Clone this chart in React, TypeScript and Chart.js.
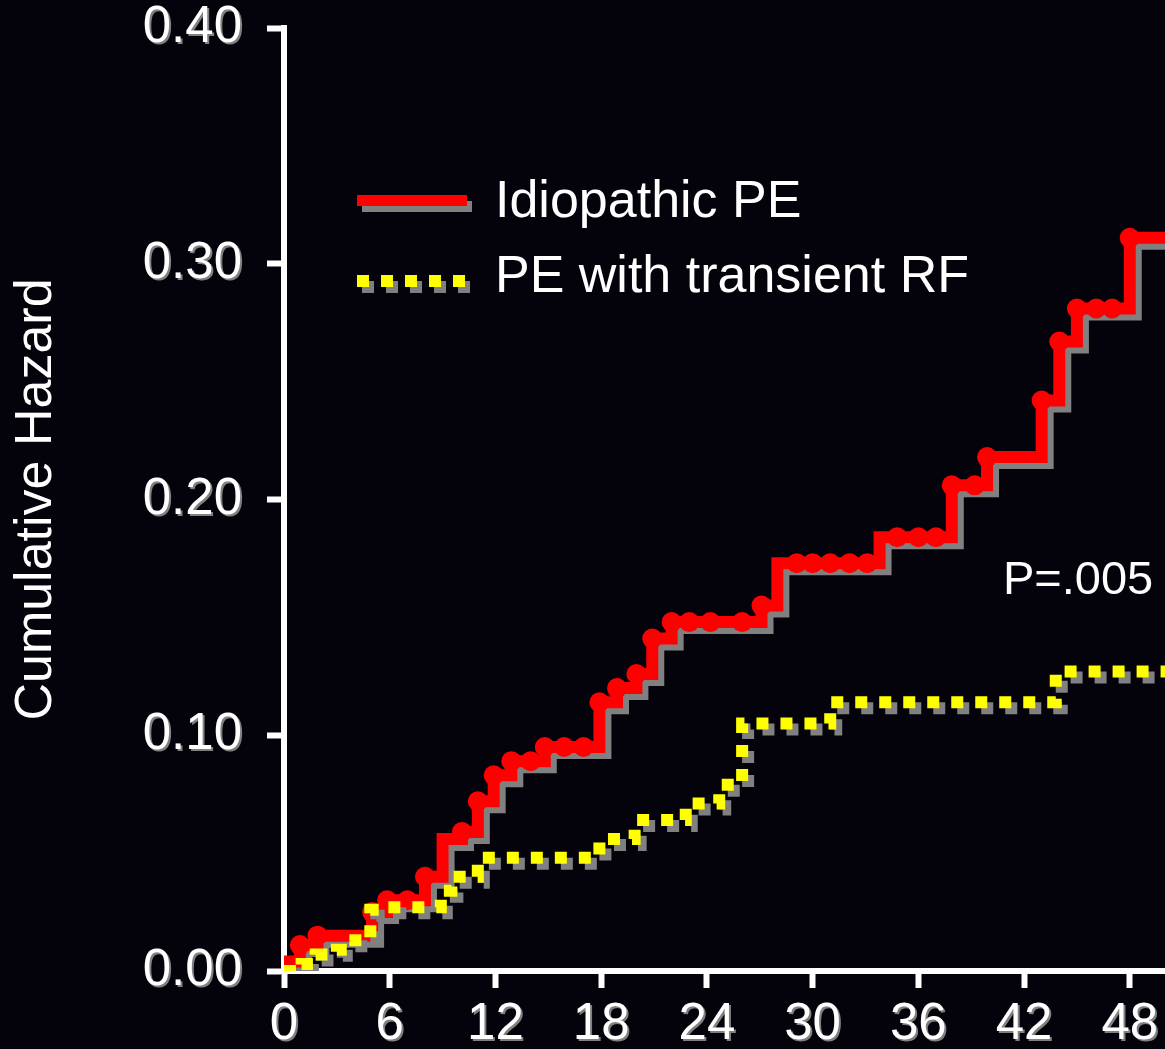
import { useEffect, useRef } from 'react';
import { Chart, registerables } from 'chart.js';

Chart.register(...registerables);

// Idiopathic PE: cumulative hazard after each event (months of follow-up)
const idiopathicMonths = [
  0, 0.9, 1.9, 5.0, 5.85, 7.0, 8.0, 9.0, 10.1, 11.0, 11.9, 12.9, 14.0, 14.8, 15.9, 17.0,
  17.9, 18.9, 20.0, 20.9, 22.0, 23.0, 24.2, 26.0, 27.1, 28.0, 29.1, 30.0, 31.0, 32.1, 33.1,
  33.8, 34.8, 36.0, 37.0, 37.9, 39.2, 39.9, 43.0, 44.0, 45.0, 46.1, 47.0, 48.0, 50.0,
];
const idiopathicHazard = [
  0.004, 0.011, 0.015, 0.025, 0.030, 0.030, 0.040, 0.056, 0.059, 0.072, 0.083, 0.089, 0.089,
  0.095, 0.095, 0.095, 0.114, 0.120, 0.126, 0.141, 0.148, 0.148, 0.148, 0.148, 0.155, 0.173,
  0.173, 0.173, 0.173, 0.173, 0.173, 0.184, 0.184, 0.184, 0.184, 0.206, 0.206, 0.218, 0.242,
  0.267, 0.281, 0.281, 0.281, 0.311, 0.311,
];
// 1 = event drawn with a dot
const idiopathicMarked = [
  0, 1, 1, 1, 1, 1, 1, 0, 1, 1, 1, 1, 1, 1, 1, 1, 1, 1, 1, 1, 1, 1, 1, 1, 1, 0, 1, 1, 1, 1, 1,
  0, 1, 1, 1, 1, 1, 1, 1, 1, 1, 1, 1, 1, 0,
];

// PE with transient risk factor
const transientMonths = [
  0, 1.0, 1.8, 3.0, 3.6, 4.9, 5.9, 8.9, 9.5, 11.0, 17.9, 19.9, 22.8, 24.7, 26.0, 31.0, 43.8, 50.0,
];
const transientHazard = [
  0, 0.003, 0.007, 0.009, 0.013, 0.026, 0.027, 0.034, 0.040, 0.048, 0.056, 0.064, 0.071,
  0.079, 0.105, 0.114, 0.127, 0.127,
];

const monthTicks = [0, 6, 12, 18, 24, 30, 36, 42, 48];
const hazardTicks = [0, 0.1, 0.2, 0.3, 0.4];
const seriesLabels = ['Idiopathic PE', 'PE with transient RF'];
const axisTitle = 'Cumulative Hazard';
const pValueText = 'P=.005';
const pValueAt = { month: 40.8, hazard: 0.16 };

const W = 1165;
const H = 1049;
const FONT = '"Liberation Sans", Arial, Helvetica, sans-serif';
const BG = '#04030b';
const WHITE = '#ffffff';
const RED = '#ff0000';
const YELLOW = '#ffff00';
const SHADE = '#808080';
const TICK_LEN = 17;
const TICK_FONT = 51;

const fmtHazard = (v: number) => Number(v).toFixed(2);

const decorPlugin = {
  id: 'decor',
  beforeDraw(chart: any) {
    const ctx = chart.ctx;
    ctx.save();
    ctx.fillStyle = BG;
    ctx.fillRect(0, 0, chart.width, chart.height);
    // soft grey drop shadow beneath the tick labels
    ['x', 'y'].forEach((id) => {
      const scale = chart.scales[id];
      const items = scale.getLabelItems ? scale.getLabelItems() : [];
      items.forEach((item: any) => {
        const o = item.options;
        ctx.save();
        ctx.translate(o.translation[0] + 2, o.translation[1] + 2);
        ctx.rotate(o.rotation || 0);
        ctx.font = item.font.string;
        ctx.fillStyle = SHADE;
        ctx.textAlign = o.textAlign;
        ctx.textBaseline = o.textBaseline;
        ctx.fillText(String(item.label), 0, item.textOffset);
        ctx.restore();
      });
    });
    ctx.restore();
  },
  beforeDatasetDraw(chart: any, args: any) {
    const ds = chart.data.datasets[args.index];
    if (ds.dropShadow) {
      const ctx = chart.ctx;
      ctx.save();
      ctx.shadowColor = SHADE;
      ctx.shadowOffsetX = 6;
      ctx.shadowOffsetY = 6;
      ctx.shadowBlur = 0;
    }
  },
  afterDatasetDraw(chart: any, args: any) {
    const ds = chart.data.datasets[args.index];
    if (ds.dropShadow) chart.ctx.restore();
  },
  afterDraw(chart: any) {
    const ctx = chart.ctx;
    ctx.save();
    // legend keys
    ctx.shadowColor = SHADE;
    ctx.shadowOffsetX = 5;
    ctx.shadowOffsetY = 6;
    ctx.shadowBlur = 0;
    ctx.fillStyle = RED;
    ctx.fillRect(357, 195, 110, 11);
    ctx.fillStyle = YELLOW;
    for (let i = 0; i < 5; i++) ctx.fillRect(357 + i * 24, 275, 12, 12);
    ctx.shadowColor = 'rgba(0,0,0,0)';
    ctx.shadowOffsetX = 0;
    ctx.shadowOffsetY = 0;
    ctx.fillStyle = WHITE;
    ctx.textAlign = 'left';
    ctx.textBaseline = 'alphabetic';
    ctx.font = `52px ${FONT}`;
    ctx.fillText(seriesLabels[0], 495, 217);
    ctx.fillText(seriesLabels[1], 495, 292);
    // log-rank p value
    ctx.font = `47px ${FONT}`;
    ctx.fillText(
      pValueText,
      chart.scales.x.getPixelForValue(pValueAt.month),
      chart.scales.y.getPixelForValue(pValueAt.hazard),
    );
    ctx.restore();
  },
};

export default function App() {
  const canvasRef = useRef<HTMLCanvasElement | null>(null);

  useEffect(() => {
    const canvas = canvasRef.current;
    if (!canvas) return;

    const idiopathicPoints = idiopathicMonths.map((x, i) => ({ x, y: idiopathicHazard[i] }));
    const idiopathicDots = idiopathicPoints.filter((_, i) => idiopathicMarked[i] === 1);
    const transientPoints = transientMonths.map((x, i) => ({ x, y: transientHazard[i] }));

    const axisGrid = {
      display: true,
      drawOnChartArea: false,
      drawTicks: true,
      tickLength: TICK_LEN,
      tickWidth: 6,
      tickColor: WHITE,
      color: WHITE,
    };

    const chart = new Chart(canvas, {
      type: 'line',
      data: {
        datasets: [
          {
            label: seriesLabels[1],
            data: transientPoints,
            borderColor: YELLOW,
            borderWidth: 12,
            borderDash: [12, 12],
            borderCapStyle: 'butt',
            borderJoinStyle: 'miter',
            stepped: 'before',
            pointRadius: 0,
            fill: false,
            order: 1,
            dropShadow: true,
          } as any,
          {
            label: seriesLabels[0] + ' events',
            data: idiopathicDots,
            showLine: false,
            pointRadius: 10,
            pointStyle: 'circle',
            pointBackgroundColor: RED,
            pointBorderWidth: 0,
            order: 2,
          } as any,
          {
            label: seriesLabels[0],
            data: idiopathicPoints,
            borderColor: RED,
            borderWidth: 12,
            borderJoinStyle: 'miter',
            stepped: 'before',
            pointRadius: 0,
            fill: false,
            order: 3,
            dropShadow: true,
          } as any,
        ],
      },
      options: {
        responsive: false,
        animation: false,
        devicePixelRatio: 1,
        layout: { autoPadding: false, padding: { top: 28, left: 0, right: 0, bottom: 0 } },
        plugins: {
          legend: { display: false },
          tooltip: { enabled: false },
        },
        scales: {
          x: {
            type: 'linear',
            min: 0,
            max: 50,
            afterBuildTicks: (s: any) => {
              s.ticks = monthTicks.map((value) => ({ value }));
            },
            afterFit: (s: any) => {
              s.height = H - 971;
              s.paddingLeft = 0;
              s.paddingRight = 0;
            },
            ticks: {
              color: WHITE,
              // the tall line box sets the gap under the tick marks
              font: { family: FONT, size: TICK_FONT, lineHeight: 1.43 },
              padding: 0,
              autoSkip: false,
              maxRotation: 0,
              callback: (v: any) => String(v),
            },
            grid: axisGrid,
            border: { display: true, color: WHITE, width: 6 },
          },
          y: {
            type: 'linear',
            min: 0,
            max: 0.4,
            afterBuildTicks: (s: any) => {
              s.ticks = hazardTicks.map((value) => ({ value }));
            },
            afterFit: (s: any) => {
              s.width = 284;
              s.paddingTop = 0;
              s.paddingBottom = 0;
            },
            ticks: {
              color: WHITE,
              font: { family: FONT, size: TICK_FONT, lineHeight: 1 },
              padding: 25,
              callback: (v: any) => fmtHazard(v),
            },
            grid: axisGrid,
            border: { display: true, color: WHITE, width: 6 },
            title: {
              display: true,
              text: axisTitle,
              color: WHITE,
              font: { family: FONT, size: 52, lineHeight: 1.2 },
              padding: { top: 5, bottom: 0 },
            },
          },
        },
      } as any,
      plugins: [decorPlugin],
    });

    return () => chart.destroy();
  }, []);

  return (
    <div style={{ position: 'absolute', left: 0, top: 0, width: W, height: H, background: BG }}>
      <canvas ref={canvasRef} width={W} height={H} style={{ display: 'block' }} />
    </div>
  );
}
